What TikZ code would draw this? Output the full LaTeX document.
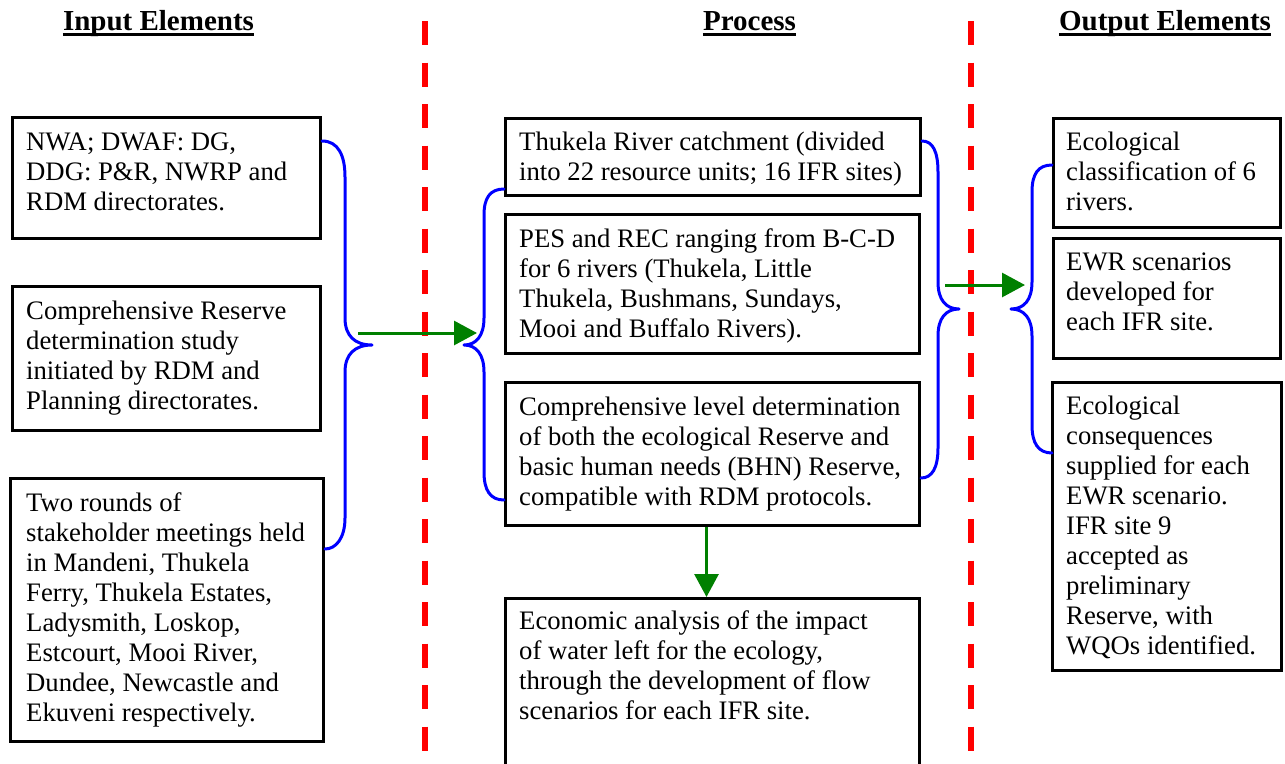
\documentclass[tikz,border=0pt]{standalone}
\usepackage{fontspec}
\setmainfont{Liberation Serif}
\usetikzlibrary{arrows.meta,calc}
\definecolor{linkgreen}{RGB}{0,128,0}
\definecolor{braceblue}{RGB}{0,0,255}
\definecolor{divred}{RGB}{255,0,0}

\begin{document}
\begin{tikzpicture}[x=1pt,y=-1pt,
  box/.style={draw=black, line width=3pt, rectangle, inner sep=0pt, anchor=north west},
  txt/.style={inner sep=0pt, anchor=north west, align=left, font=\fontsize{26.7}{30}\selectfont},
  head/.style={inner sep=0pt, anchor=base, font=\fontsize{29}{32}\selectfont\bfseries},
  headrule/.style={line width=3pt, black},
  brace/.style={draw=braceblue, line width=3pt, line cap=round, line join=round},
  garrow/.style={draw=linkgreen, line width=3pt, -{Triangle[length=23pt,width=24pt]}},
  divider/.style={draw=divred, line width=6pt, dash pattern=on 24pt off 17.5pt}
]
\clip (0,0) rectangle (1285,763);
\fill[white] (0,0) rectangle (1285,763);

% column dividers
\coordinate (d1top) at (425,21);
\coordinate (d1bot) at (425,770);
\coordinate (d2top) at (971,21);
\coordinate (d2bot) at (971,770);
\draw[divider] (d1top) -- (d1bot);
\draw[divider] (d2top) -- (d2bot);

% column headings
\node[head] (h1) at (158.5,30) {Input Elements};
\node[head] (h2) at (749.5,30) {Process};
\node[head] (h3) at (1165,30) {Output Elements};
\foreach \h in {h1,h2,h3}
  \draw[headrule] ($(\h.base west)+(0,4.5)$) -- ($(\h.base east)+(0,4.5)$);

% input boxes
\node[box, minimum width=308pt, minimum height=121pt] (b1) at (11,116) {};
\node[txt] (t1) at ($(b1.north west)+(15,13)$)
  {\strut NWA; DWAF: DG,\\DDG: P\&R, NWRP and\\RDM directorates.};
\node[box, minimum width=308pt, minimum height=144pt] (b2) at (11,285) {};
\node[txt] (t2) at ($(b2.north west)+(15,13)$)
  {\strut Comprehensive Reserve\\determination study\\initiated by RDM and\\Planning directorates.};
\node[box, minimum width=313pt, minimum height=263pt] (b3) at (9,477) {};
\node[txt] (t3) at ($(b3.north west)+(17,13)$)
  {\strut Two rounds of\\stakeholder meetings held\\in Mandeni, Thukela\\Ferry, Thukela Estates,\\Ladysmith, Loskop,\\Estcourt, Mooi River,\\Dundee, Newcastle and\\Ekuveni respectively.};

% process boxes
\node[box, minimum width=415pt, minimum height=77pt] (m1) at (504,117) {};
\node[txt] (u1) at ($(m1.north west)+(15,12)$)
  {\strut Thukela River catchment (divided\\into 22 resource units; 16 IFR sites)};
\node[box, minimum width=414pt, minimum height=139pt] (m2) at (504,213) {};
\node[txt] (u2) at ($(m2.north west)+(15,13)$)
  {\strut PES and REC ranging from B-C-D\\for 6 rivers (Thukela, Little\\Thukela, Bushmans, Sundays,\\Mooi and Buffalo Rivers).};
\node[box, minimum width=414pt, minimum height=143pt] (m3) at (504,381) {};
\node[txt] (u3) at ($(m3.north west)+(15,13)$)
  {\strut Comprehensive level determination\\of both the ecological Reserve and\\basic human needs (BHN) Reserve,\\compatible with RDM protocols.};
\node[box, minimum width=414pt, minimum height=190pt] (m4) at (504,597) {};
\node[txt] (u4) at ($(m4.north west)+(15,11)$)
  {\strut Economic analysis of the impact\\of water left for the ecology,\\through the development of flow\\scenarios for each IFR site.};

% output boxes
\node[box, minimum width=227pt, minimum height=109pt] (r1) at (1052,117) {};
\node[txt] (v1) at ($(r1.north west)+(14,12)$)
  {\strut Ecological\\classification of 6\\rivers.};
\node[box, minimum width=227pt, minimum height=120pt] (r2) at (1052,237) {};
\node[txt] (v2) at ($(r2.north west)+(14,12)$)
  {\strut EWR scenarios\\developed for\\each IFR site.};
\node[box, minimum width=229pt, minimum height=288pt] (r3) at (1051,381) {};
\node[txt] (v3) at ($(r3.north west)+(15,12)$)
  {\strut Ecological\\consequences\\supplied for each\\EWR scenario.\\IFR site 9\\accepted as\\preliminary\\Reserve, with\\WQOs identified.};

% brace tips
\coordinate (tipA) at (372,345);
\coordinate (tipB) at (464,345);
\coordinate (tipC) at (959,309);
\coordinate (tipD) at (1011,309);

% braces grouping the boxes
\draw[brace] ($(b1.north east)+(0,25)$) .. controls (338,141) and (345,155) .. (345,177)
  -- (345,318) .. controls (345,336) and (355,345) .. (tipA)
  .. controls (355,345) and (345,354) .. (345,372)
  -- (345,518) .. controls (345,538) and (336,549) .. ($(b3.north east)+(0,72)$);
\draw[brace] ($(m1.north west)+(0,72)$) .. controls (490,189) and (484,198) .. (484,215)
  -- (484,318) .. controls (484,336) and (476,345) .. (tipB)
  .. controls (476,345) and (484,354) .. (484,372)
  -- (484,472) .. controls (484,490) and (490,500) .. ($(m3.north west)+(0,119)$);
\draw[brace] ($(m1.north east)+(0,24)$) .. controls (933,141) and (938,152) .. (938,172)
  -- (938,282) .. controls (938,300) and (946,309) .. (tipC)
  .. controls (946,309) and (938,318) .. (938,336)
  -- (938,448) .. controls (938,468) and (932,478) .. ($(m3.north east)+(0,97)$);
\draw[brace] ($(r1.north west)+(0,48)$) .. controls (1038,165) and (1032,174) .. (1032,192)
  -- (1032,282) .. controls (1032,300) and (1024,309) .. (tipD)
  .. controls (1024,309) and (1032,318) .. (1032,336)
  -- (1032,425) .. controls (1032,443) and (1038,453) .. ($(r3.north west)+(1,72)$);

% flow arrows
\coordinate (a1s) at (358,333);
\coordinate (a1e) at (477,333);
\coordinate (a2s) at (945,285);
\coordinate (a2e) at (1025,285);
\draw[garrow] (a1s) -- (a1e);
\draw[garrow] (a2s) -- (a2e);
\draw[garrow] ($(m3.south)+(-6,0)$) -- ($(m4.north)+(-6,0)$);
\end{tikzpicture}
\end{document}
